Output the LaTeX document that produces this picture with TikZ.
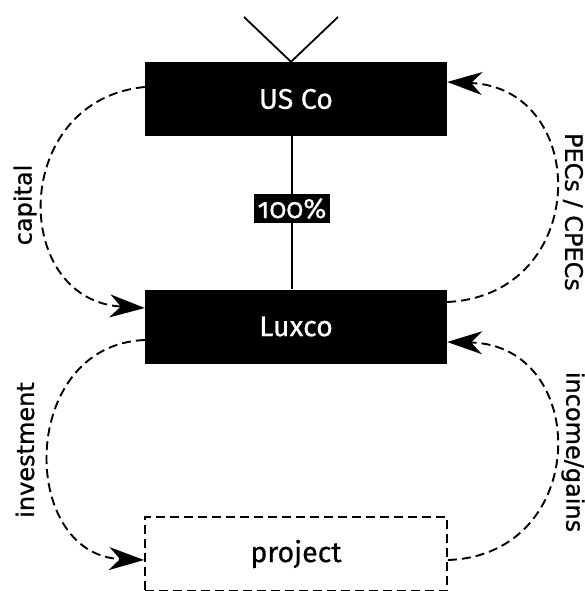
\documentclass[tikz,border=0pt]{standalone}
\usepackage{fontspec}
\newfontfamily\boxfont{Fira Sans}[Numbers=OldStyle,FakeBold=0.6]
\newfontfamily\labfont{DejaVu Sans}[FakeBold=0.9]
\usetikzlibrary{arrows.meta}
\begin{document}
\begin{tikzpicture}[x=1pt,y=-1pt,
  ent/.style={fill=black,text=white,minimum width=302pt,minimum height=74pt,inner sep=0pt,font=\boxfont\fontsize{28.5}{32}\selectfont},
  proj/.style={draw=black,line width=1.9pt,dash pattern=on 9pt off 5pt,minimum width=302pt,minimum height=74pt,inner sep=0pt,font=\boxfont\fontsize{28.5}{32}\selectfont},
  pctbox/.style={fill=black,text=white,minimum width=76pt,minimum height=29pt,inner sep=0pt,font=\boxfont\fontsize{28}{30}\selectfont},
  solidline/.style={line width=1.8pt},
  flow/.style={line width=1.9pt,dash pattern=on 9pt off 5pt,-{Stealth[length=35pt,width=23pt,inset=11pt]}},
  lbl/.style={font=\labfont\fontsize{24}{28}\selectfont}
]
\useasboundingbox (0,0) rectangle (585,591);
\node[ent] (usco) at (296,99) {US Co};
\node[ent] (luxco) at (296,326.5) {Luxco};
\node[proj] (project) at (296,554) {project};
\coordinate (yl) at (244,17);
\coordinate (yr) at (338,17);
\draw[solidline] (yl) -- ([xshift=-5pt]usco.north) -- (yr);
\draw[solidline] ([xshift=-4pt]usco.south) -- ([xshift=-4pt]luxco.north);
\node[pctbox] (pct) at (292,208.5) {100\%};
\draw[flow] ([yshift=12pt]usco.west) .. controls (10,100) and (10,300) .. ([yshift=18.5pt]luxco.west);
\draw[flow] ([yshift=24.5pt]luxco.east) .. controls (591,295) and (591,88) .. ([yshift=17pt]usco.east);
\draw[flow] ([yshift=-13.5pt]luxco.west) .. controls (18,345) and (18,555) .. ([yshift=-6pt]project.west);
\draw[flow] ([yshift=-6pt]project.east) .. controls (591,555) and (591,345) .. ([yshift=-15.5pt]luxco.east);
\node[lbl,rotate=90] (lcap) at (25,205) {capital};
\node[lbl,rotate=90] (linv) at (25,450) {investment};
\node[lbl,rotate=-90] (lpec) at (573,212) {PECs / CPECs};
\node[lbl,rotate=-90] (linc) at (573,452) {income/gains};
\end{tikzpicture}
\end{document}
